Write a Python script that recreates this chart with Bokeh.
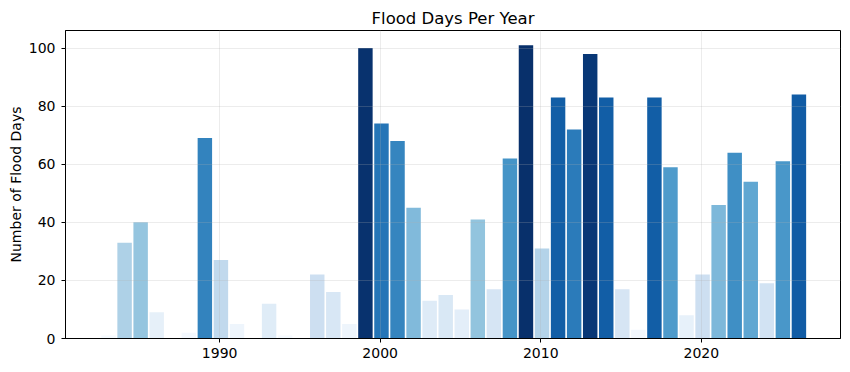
from bokeh.plotting import figure
from bokeh.models import ColumnDataSource, FixedTicker, Range1d
from bokeh.transform import linear_cmap
from bokeh.palettes import Blues256
from bokeh.embed import file_html
from bokeh.resources import INLINE

years = list(range(1983, 2027))
flood_days = [1, 33, 40, 9, 0, 2, 69, 27, 5, 0, 12, 1, 0, 22, 16, 5,
              100, 74, 68, 45, 13, 15, 10, 41, 17, 62, 101, 31, 83, 72,
              98, 83, 17, 3, 83, 59, 8, 22, 46, 64, 54, 19, 61, 84]
x_ticks = [1990, 2000, 2010, 2020]
y_ticks = [0, 20, 40, 60, 80, 100]

FONT = "DejaVu Sans"

src = ColumnDataSource(dict(x=[y + 0.08 for y in years], days=flood_days))

p = figure(width=850, height=372, output_backend="svg", toolbar_location=None,
           x_range=Range1d(1980.40, 2028.67), y_range=Range1d(0, 106.05),
           title="Flood Days Per Year",
           min_border_left=65, min_border_right=10, min_border_top=30, min_border_bottom=34)

p.vbar(x="x", top="days", width=0.9, bottom=0, source=src, line_color=None,
       fill_color=linear_cmap("days", list(reversed(Blues256)), low=min(flood_days), high=max(flood_days)))

p.title.align = "center"
p.title.text_font = FONT
p.title.text_font_size = "16.5px"
p.title.text_font_style = "normal"
p.title.text_color = "black"
p.title.standoff = 5

p.xaxis.ticker = FixedTicker(ticks=x_ticks)
p.yaxis.ticker = FixedTicker(ticks=y_ticks)
p.yaxis.axis_label = "Number of Flood Days"
for ax in (p.xaxis, p.yaxis):
    ax.major_label_text_font = FONT
    ax.major_label_text_font_size = "14px"
    ax.major_label_text_color = "black"
    ax.axis_label_text_font = FONT
    ax.axis_label_text_font_size = "14px"
    ax.axis_label_text_font_style = "normal"
    ax.axis_label_text_color = "black"
    ax.axis_line_color = "black"
    ax.major_tick_line_color = "black"
    ax.major_tick_in = 0
    ax.major_tick_out = 4
    ax.minor_tick_line_color = None
    ax.major_label_standoff = 5
p.yaxis.major_label_standoff = 6
p.yaxis.axis_label_standoff = 2

for g in (p.xgrid, p.ygrid):
    g.grid_line_color = "#b0b0b0"
    g.grid_line_alpha = 0.3
    g.grid_line_width = 0.8
    g.level = "annotation"

p.outline_line_color = "black"
p.outline_line_width = 1
p.background_fill_color = "white"
p.border_fill_color = "white"

open("out.html", "w").write(file_html(p, INLINE))
